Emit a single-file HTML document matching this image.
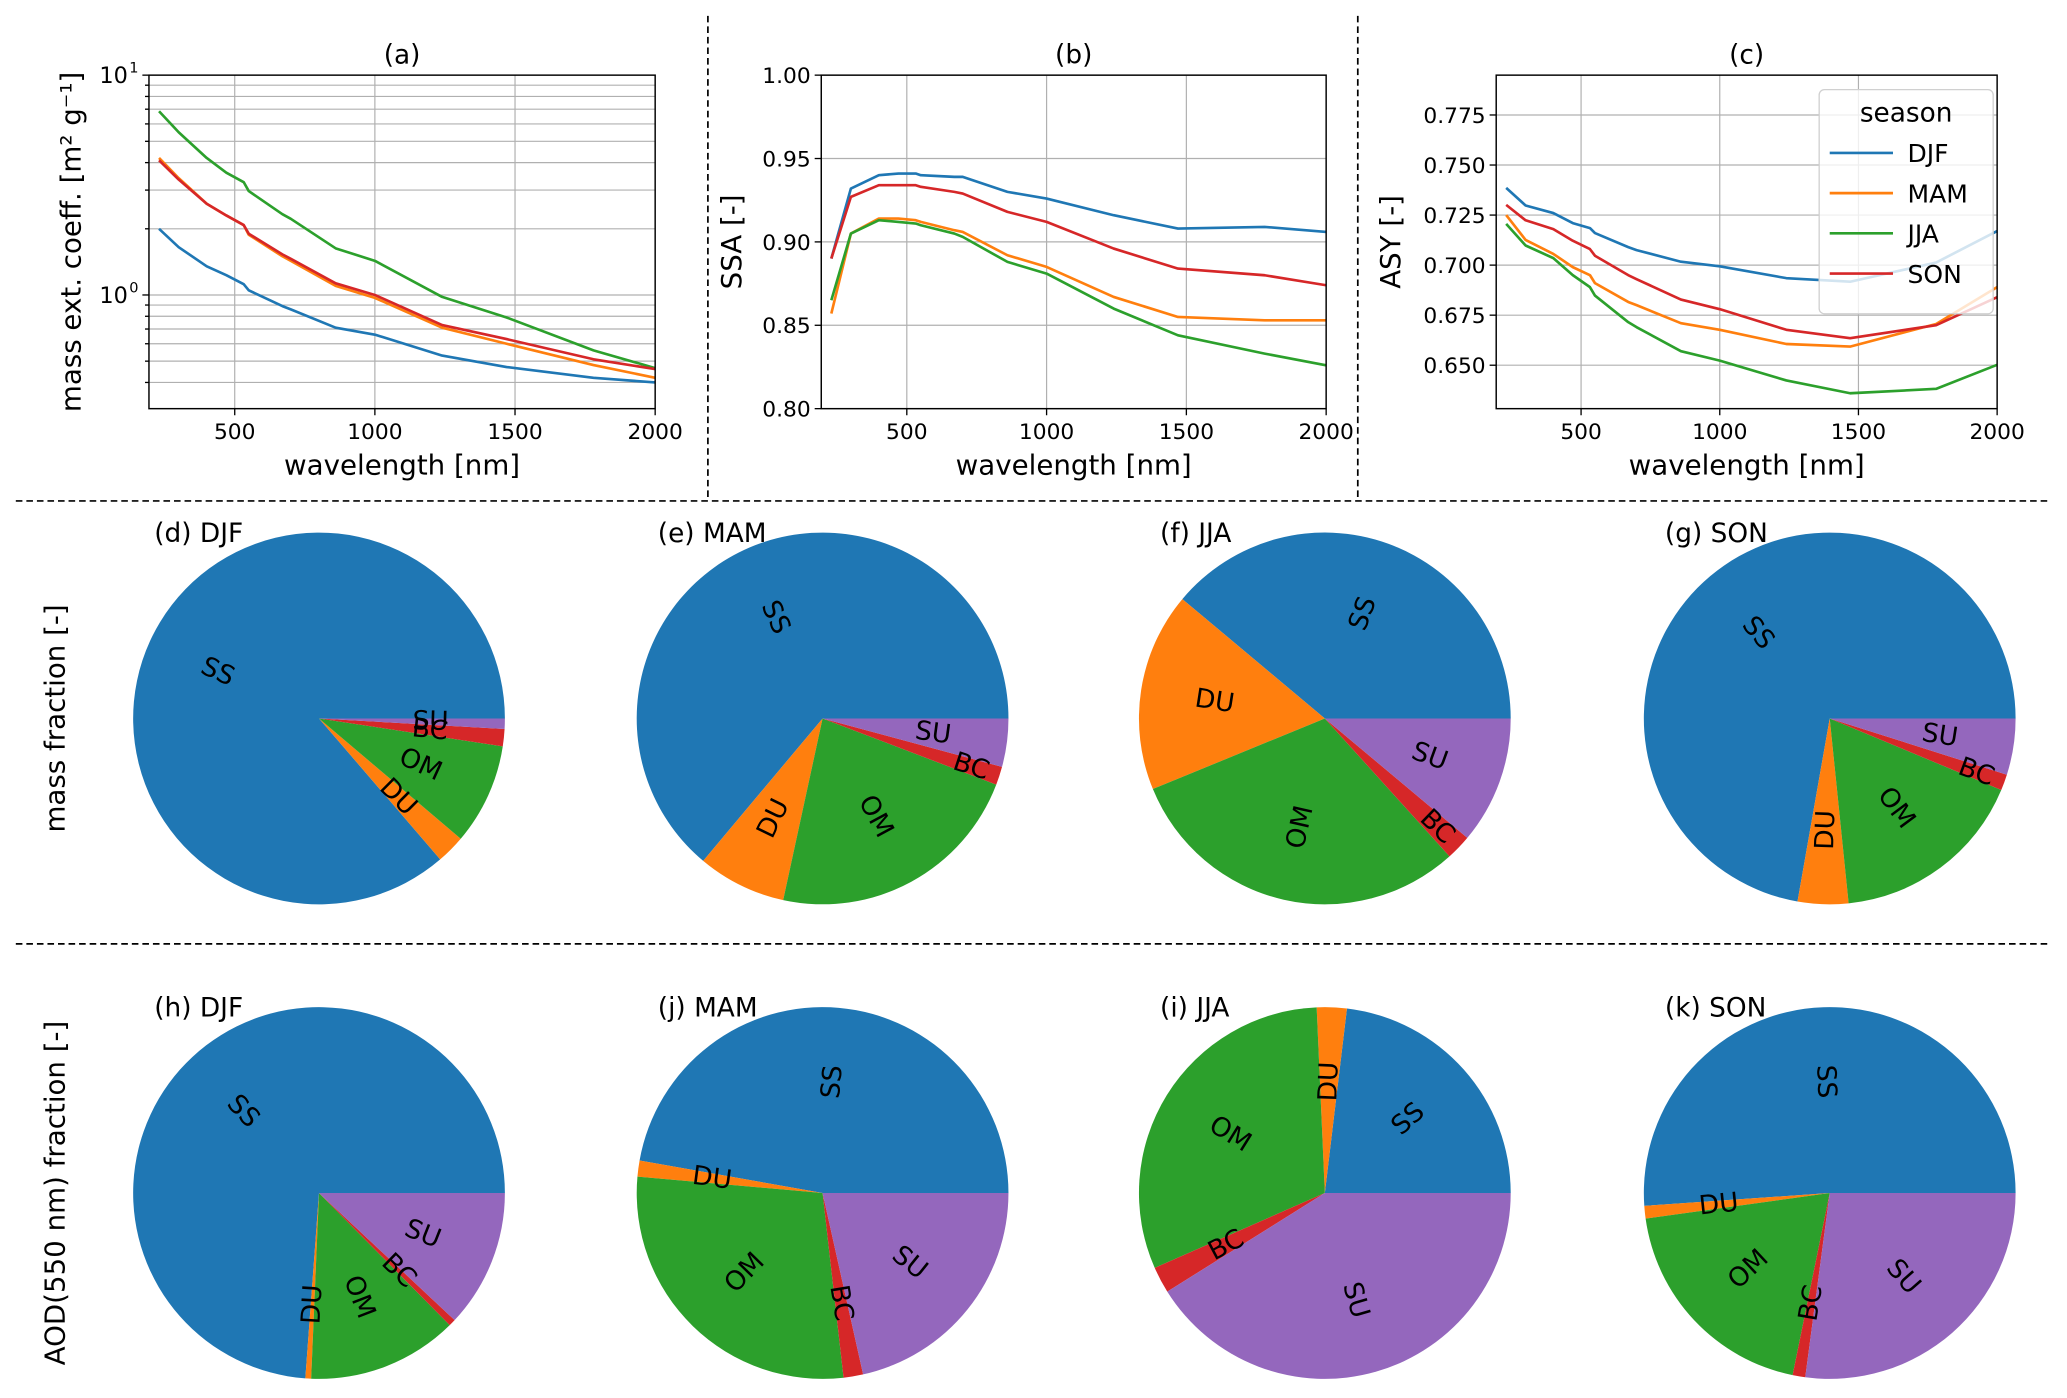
<!DOCTYPE html>
<html><head><meta charset="utf-8">
<style>
html,body{margin:0;padding:0;background:#fff;}
svg{display:block;font-family:"DejaVu Sans","Liberation Sans",sans-serif;}
</style></head>
<body>
<svg id="fig" width="2067" height="1398" viewBox="0 0 1568 1060.5" xmlns="http://www.w3.org/2000/svg"></svg>
<script>
const wavelengths = [230, 300, 400, 470, 532, 550, 670, 700, 860, 1000, 1240, 1470, 1780, 2000];
const seasons = ['DJF','MAM','JJA','SON'];
const seasonColors = ['#1f77b4','#ff7f0e','#2ca02c','#d62728'];
const extDJF = [2.0, 1.65, 1.35, 1.23, 1.12, 1.05, 0.89, 0.86, 0.71, 0.66, 0.53, 0.47, 0.42, 0.40];
const extMAM = [4.2, 3.4, 2.6, 2.3, 2.08, 1.88, 1.50, 1.43, 1.10, 0.97, 0.71, 0.60, 0.48, 0.42];
const extJJA = [6.85, 5.5, 4.2, 3.6, 3.26, 2.97, 2.33, 2.22, 1.63, 1.43, 0.98, 0.79, 0.56, 0.465];
const extSON = [4.1, 3.35, 2.6, 2.3, 2.08, 1.9, 1.53, 1.46, 1.13, 1.0, 0.73, 0.63, 0.51, 0.46];
const ssaDJF = [0.890, 0.932, 0.940, 0.941, 0.941, 0.940, 0.939, 0.939, 0.930, 0.926, 0.916, 0.908, 0.909, 0.906];
const ssaMAM = [0.857, 0.905, 0.914, 0.914, 0.913, 0.912, 0.907, 0.906, 0.892, 0.885, 0.867, 0.855, 0.853, 0.853];
const ssaJJA = [0.865, 0.905, 0.913, 0.912, 0.911, 0.910, 0.905, 0.903, 0.888, 0.881, 0.860, 0.844, 0.833, 0.826];
const ssaSON = [0.890, 0.927, 0.934, 0.934, 0.934, 0.933, 0.930, 0.929, 0.918, 0.912, 0.896, 0.884, 0.880, 0.874];
const asyDJF = [0.7386, 0.7298, 0.726, 0.721, 0.7185, 0.716, 0.709, 0.7075, 0.7017, 0.6994, 0.6935, 0.6917, 0.7013, 0.717];
const asyMAM = [0.725, 0.7126, 0.7056, 0.699, 0.695, 0.691, 0.6816, 0.680, 0.671, 0.6677, 0.6606, 0.6593, 0.6706, 0.689];
const asyJJA = [0.7206, 0.7098, 0.7035, 0.695, 0.689, 0.6848, 0.6715, 0.669, 0.657, 0.6523, 0.6424, 0.636, 0.6382, 0.6502];
const asySON = [0.7301, 0.7224, 0.718, 0.7122, 0.708, 0.7047, 0.695, 0.693, 0.6828, 0.678, 0.6677, 0.6635, 0.670, 0.684];
const xTicks = [500, 1000, 1500, 2000];
const ssaTicks = [0.80, 0.85, 0.90, 0.95, 1.00];
const asyTicks = [0.650, 0.675, 0.700, 0.725, 0.750, 0.775];

const species = ['SS','DU','OM','BC','SU'];
const speciesColors = ['#1f77b4','#ff7f0e','#2ca02c','#d62728','#9467bd'];
const massDJF = [0.863, 0.025, 0.088, 0.015, 0.009];
const massMAM = [0.639, 0.077, 0.226, 0.016, 0.042];
const massJJA = [0.389, 0.173, 0.305, 0.022, 0.111];
const massSON = [0.723, 0.044, 0.171, 0.014, 0.049];
const aodDJF = [0.739, 0.005, 0.131, 0.006, 0.120];
const aodMAM = [0.472, 0.014, 0.282, 0.017, 0.215];
const aodJJA = [0.231, 0.026, 0.309, 0.023, 0.411];
const aodSON = [0.511, 0.011, 0.196, 0.011, 0.271];
const pieTitlesMass = ['(d) DJF','(e) MAM','(f) JJA','(g) SON'];
const pieTitlesAod = ['(h) DJF','(j) MAM','(i) JJA','(k) SON'];

const NS = 'http://www.w3.org/2000/svg';
const svg = document.getElementById('fig');
function mk(tag, attrs, parent){
  const e = document.createElementNS(NS, tag);
  for (const k in attrs) e.setAttribute(k, attrs[k]);
  (parent||svg).appendChild(e);
  return e;
}
function txt(s, attrs, parent){ const t = mk('text', attrs, parent); t.textContent = s; return t; }

const sep1 = mk('line',{x1:537,y1:12,x2:537,y2:380,stroke:'#000','stroke-width':1.3,'stroke-dasharray':'5,3'});


const sep2 = mk('line',{x1:1030,y1:12,x2:1030,y2:380,stroke:'#000','stroke-width':1.3,'stroke-dasharray':'5,3'});


const sep3 = mk('line',{x1:12,y1:380,x2:1555,y2:380,stroke:'#000','stroke-width':1.3,'stroke-dasharray':'5,3'});


const sep4 = mk('line',{x1:12,y1:716,x2:1555,y2:716,stroke:'#000','stroke-width':1.3,'stroke-dasharray':'5,3'});



function linePanel(opt){
  const g = mk('g',{});
  
  
  const L=opt.left,R=opt.right,T=57,B=310;
  const xmin=194,xmax=2000;
  const xs = v => L + (v-xmin)/(xmax-xmin)*(R-L);
  let ys;
  if (opt.log){
    const a=Math.log10(opt.ymin), b=Math.log10(opt.ymax);
    ys = v => B - (Math.log10(v)-a)/(b-a)*(B-T);
  } else {
    ys = v => B - (v-opt.ymin)/(opt.ymax-opt.ymin)*(B-T);
  }
  xTicks.forEach(t=>{ if (t<xmax) mk('line',{x1:xs(t),x2:xs(t),y1:T,y2:B,stroke:'#b0b0b0','stroke-width':0.9},g); });
  if (opt.log){
    [0.4,0.5,0.6,0.7,0.8,0.9,1,2,3,4,5,6,7,8,9].forEach(v=>{
      mk('line',{x1:L,x2:R,y1:ys(v),y2:ys(v),stroke:'#b0b0b0','stroke-width':0.9},g);
      mk('line',{x1:L-(v===1?5:3),x2:L,y1:ys(v),y2:ys(v),stroke:'#000','stroke-width':1},g);
    });
    mk('line',{x1:L-5,x2:L,y1:ys(10),y2:ys(10),stroke:'#000','stroke-width':1},g);
    const t1 = txt('10',{x:L-16,y:ys(10)+6,'text-anchor':'end','font-size':17},g);
     
    txt('1',{x:L-15,y:ys(10)-2,'font-size':11},g);
    const t0 = txt('10',{x:L-16,y:ys(1)+6,'text-anchor':'end','font-size':17},g);
     
    txt('0',{x:L-15,y:ys(1)-2,'font-size':11},g);
  } else {
    opt.ticks.forEach(t=>{
      mk('line',{x1:L,x2:R,y1:ys(t),y2:ys(t),stroke:'#b0b0b0','stroke-width':0.9},g);
      mk('line',{x1:L-5,x2:L,y1:ys(t),y2:ys(t),stroke:'#000','stroke-width':1},g);
      const tl = txt(t.toFixed(opt.dec),{x:L-8,y:ys(t)+6,'text-anchor':'end','font-size':16.5},g);
       
    });
  }
  xTicks.forEach(t=>{
    mk('line',{x1:xs(t),x2:xs(t),y1:B,y2:B+5,stroke:'#000','stroke-width':1},g);
    const tl = txt(String(t),{x:xs(t),y:B+23,'text-anchor':'middle','font-size':16.5},g);
     
  });
  opt.series.forEach((s,i)=>{
    const d = s.map((v,j)=>(j?'L':'M')+xs(wavelengths[j]).toFixed(2)+','+ys(v).toFixed(2)).join(' ');
    const p = mk('path',{d:d,fill:'none',stroke:seasonColors[i],'stroke-width':2,'stroke-linejoin':'round'},g);
    
    
  });
  mk('rect',{x:L,y:T,width:R-L,height:B-T,fill:'none',stroke:'#000','stroke-width':1.1},g);
  const tt = txt(opt.title,{x:(L+R)/2,y:48,'text-anchor':'middle','font-size':20},g);
   
  const xl = txt('wavelength [nm]',{x:(L+R)/2,y:360,'text-anchor':'middle','font-size':21},g);
   
  const yl = txt(opt.ylabel,{x:0,y:0,'text-anchor':'middle','font-size':21,transform:`translate(${opt.ylx},${(T+B)/2}) rotate(-90)`},g);
   
  return g;
}
linePanel({name:'panel-a-mass-extinction',left:113,right:497,log:true,ymin:0.304,ymax:10,title:'(a)',ylabel:'mass ext. coeff. [m² g⁻¹]',ylx:61,series:[extDJF,extMAM,extJJA,extSON]});
linePanel({name:'panel-b-ssa',left:623,right:1006,ymin:0.80,ymax:1.00,ticks:ssaTicks,dec:2,title:'(b)',ylabel:'SSA [-]',ylx:562,series:[ssaDJF,ssaMAM,ssaJJA,ssaSON]});
linePanel({name:'panel-c-asy',left:1135,right:1515,ymin:0.6283,ymax:0.7949,ticks:asyTicks,dec:3,title:'(c)',ylabel:'ASY [-]',ylx:1062,series:[asyDJF,asyMAM,asyJJA,asySON]});

const lg = mk('g',{});


mk('rect',{x:1380,y:68,width:132,height:170,rx:4,fill:'#fff','fill-opacity':0.8,stroke:'#d0d0d0','stroke-width':1},lg);
txt('season',{x:1446,y:92,'text-anchor':'middle','font-size':20},lg);
seasons.forEach((s,i)=>{
  const y = 122 + i*30.5;
  const le = mk('g',{},lg);
  
  
  mk('line',{x1:1388,x2:1436,y1:y-6,y2:y-6,stroke:seasonColors[i],'stroke-width':2},le);
  txt(s,{x:1447,y:y+1,'font-size':19},le);
});

function pie(cx,cy,r,vals,title,name){
  const g = mk('g',{});
  
  
  const tot = vals.reduce((a,b)=>a+b,0);
  let a0 = 0;
  const labels = [];
  vals.forEach((v,i)=>{
    const a1 = a0 + v/tot*360;
    const r0 = a0*Math.PI/180, r1 = a1*Math.PI/180;
    const x0 = cx + r*Math.cos(r0), y0 = cy - r*Math.sin(r0);
    const x1 = cx + r*Math.cos(r1), y1 = cy - r*Math.sin(r1);
    const large = (a1-a0)>180?1:0;
    const p = mk('path',{d:`M${cx},${cy} L${x0.toFixed(2)},${y0.toFixed(2)} A${r},${r} 0 ${large} 0 ${x1.toFixed(2)},${y1.toFixed(2)} Z`,fill:speciesColors[i]},g);
    
    
    const am = (a0+a1)/2;
    const frac = v/tot;
    const lr = (species[i]==='BC' && am>300 && am<350 && frac>0.01) ? 0.84 : 0.6;
    labels.push([i, am, lr]);
    a0 = a1;
  });
  labels.forEach(([i,am,lr])=>{
    const lx = cx + lr*r*Math.cos(am*Math.PI/180), ly = cy - lr*r*Math.sin(am*Math.PI/180);
    const rot = (am>90 && am<270) ? am-180 : am;
    const t = txt(species[i],{x:lx,y:ly,'text-anchor':'middle','dominant-baseline':'central','font-size':20,transform:`rotate(${-rot},${lx},${ly})`},g);
    
    
  });
  const tt = txt(title,{x:cx-125,y:cy-134,'font-size':20},g);
  
  
}
const pieCX = [242, 624, 1005, 1388];
[massDJF,massMAM,massJJA,massSON].forEach((v,i)=>pie(pieCX[i],545,141,v,pieTitlesMass[i],'pie-mass-'+seasons[i].toLowerCase()));
[aodDJF,aodMAM,aodJJA,aodSON].forEach((v,i)=>pie(pieCX[i],905,141,v,pieTitlesAod[i],'pie-aod-'+seasons[i].toLowerCase()));

const ym = txt('mass fraction [-]',{x:0,y:0,'text-anchor':'middle','font-size':21,transform:'translate(49,545) rotate(-90)'});


const ya = txt('AOD(550 nm) fraction [-]',{x:0,y:0,'text-anchor':'middle','font-size':21,transform:'translate(49,905) rotate(-90)'});


</script>
</body></html>
